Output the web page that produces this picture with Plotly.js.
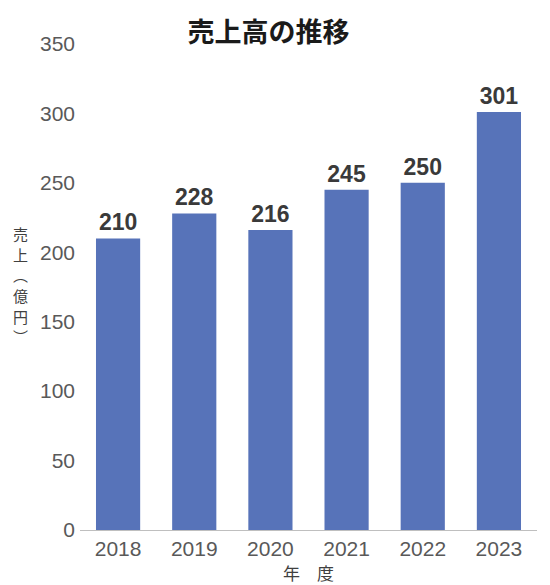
<html><head>
<meta charset="utf8"/>
<script src="https://cdn.plot.ly/plotly-3.0.1.min.js"></script>
<style>
* { margin: 0px; padding: 0px }
#chart { width: 550px; height: 585px }
</style>
</head><body>
<div id="chart"></div>
<script>
var years = ['2018', '2019', '2020', '2021', '2022', '2023'];
var sales = [210, 228, 216, 245, 250, 301];
var yTicks = [0, 50, 100, 150, 200, 250, 300, 350];
var yTitleChars = ['売', '上', '︵', '億', '円', '︶'];

var jp = '"Noto Sans CJK JP", "Liberation Sans", sans-serif';
var latin = '"Liberation Sans", Arial, sans-serif';

var trace = {
    x: years,
    y: sales,
    type: 'bar',
    marker: {color: '#5773b9'},
    text: sales.map(String),
    textposition: 'outside',
    cliponaxis: false,
    textfont: {family: latin, size: 23, color: '#3a3a3a', weight: 'bold'},
    hoverinfo: 'none'
};

// vertical (upright) y axis title, one character per annotation
var yTitle = yTitleChars.map(function(c, i){
    return {
        text: c,
        xref: 'paper', yref: 'paper',
        x: -0.131, y: 0.61 - i * 0.0425,
        xanchor: 'center', yanchor: 'middle',
        showarrow: false,
        font: {family: jp, size: 15, color: '#404040'}
    };
});

var layout = {
    width: 550,
    height: 585,
    margin: {l: 80, r: 13, t: 44, b: 55},
    paper_bgcolor: '#ffffff',
    plot_bgcolor: '#ffffff',
    bargap: 0.42,
    showlegend: false,
    title: {
        text: '<b>売上高の推移</b>',
        font: {family: jp, size: 27, color: '#1a1a1a'},
        x: 0.488, xanchor: 'center',
        y: 0.945, yanchor: 'middle'
    },
    xaxis: {
        type: 'category',
        showline: true, linecolor: '#bfbfbf', linewidth: 1,
        ticks: '', showgrid: false,
        tickfont: {family: latin, size: 21, color: '#595959'},
        title: {text: '年　度', font: {family: jp, size: 17, color: '#404040'}, standoff: 2}
    },
    yaxis: {
        range: [0, 350],
        tickvals: yTicks,
        showgrid: false, zeroline: false, showline: false,
        ticks: '', ticklen: 0,
        tickfont: {family: latin, size: 21, color: '#595959'},
        ticklabelstandoff: 4
    },
    annotations: yTitle
};

Plotly.newPlot('chart', [trace], layout, {displayModeBar: false, staticPlot: true});
</script>
</body></html>
